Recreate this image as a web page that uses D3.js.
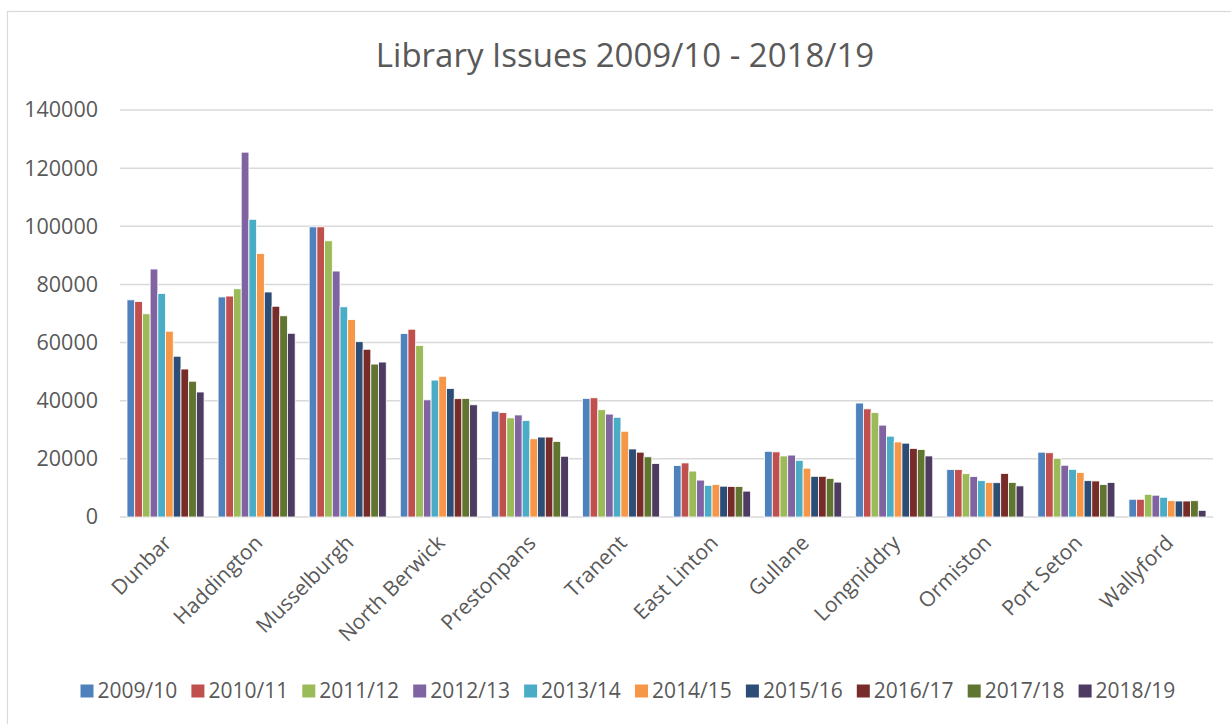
<!DOCTYPE html>
<html>
<head>
<meta charset="utf-8">
<script src="https://cdn.jsdelivr.net/npm/d3@7"></script>
<style>
  body { margin: 0; background: #fff; }
  text { font-family: "Open Sans", "Liberation Sans", sans-serif; fill: #595959; }
</style>
</head>
<body>
<div class="canvas"></div>
<script>
// libraries along the x axis
const libraries = ["Dunbar", "Haddington", "Musselburgh", "North Berwick", "Prestonpans", "Tranent",
  "East Linton", "Gullane", "Longniddry", "Ormiston", "Port Seton", "Wallyford"];

// one series per year
const years = ["2009/10", "2010/11", "2011/12", "2012/13", "2013/14", "2014/15", "2015/16", "2016/17", "2017/18", "2018/19"];

// issues per year, in library order
const y2009 = [74700, 75700, 99800, 63100, 36400, 40800, 17700, 22600, 39200, 16300, 22300, 6100];
const y2010 = [74100, 76000, 99800, 64600, 35900, 41000, 18600, 22400, 37200, 16300, 22100, 6100];
const y2011 = [69900, 78500, 95000, 59000, 34100, 36900, 15800, 21000, 35900, 14900, 20200, 7800];
const y2012 = [85300, 125500, 84600, 40300, 35100, 35400, 12700, 21300, 31600, 13900, 17800, 7500];
const y2013 = [76900, 102400, 72300, 47100, 33200, 34300, 10900, 19500, 27800, 12500, 16400, 6800];
const y2014 = [63900, 90600, 67900, 48400, 26900, 29500, 11200, 16800, 25800, 11900, 15300, 5600];
const y2015 = [55300, 77400, 60300, 44200, 27500, 23400, 10600, 14000, 25400, 11800, 12500, 5500];
const y2016 = [50900, 72500, 57700, 40700, 27500, 22300, 10500, 14000, 23600, 15000, 12400, 5500];
const y2017 = [46700, 69200, 52600, 40800, 26000, 20700, 10500, 13300, 23200, 11900, 11200, 5600];
const y2018 = [43000, 63200, 53300, 38600, 20900, 18400, 8900, 12000, 21000, 10700, 11900, 2300];
const seriesValues = [y2009, y2010, y2011, y2012, y2013, y2014, y2015, y2016, y2017, y2018];

const yTicks = [0, 20000, 40000, 60000, 80000, 100000, 120000, 140000];
const colours = ["#4F81BD", "#C0504D", "#9BBB59", "#8064A2", "#4BACC6", "#F79646", "#2C4D75", "#772C2A", "#5F7530", "#4D3B62"];

// dimensions
const w = 1231;
const h = 724;
const plot = { left: 120, right: 1213, top: 110, bottom: 517 };

const svg = d3.select(".canvas").append("svg").attr("width", w).attr("height", h);

// chart frame (only left/top visible in the crop)
svg.append("rect")
  .attr("x", 7.5).attr("y", 11.5)
  .attr("width", 1260).attr("height", 760)
  .attr("fill", "none")
  .attr("stroke", "#d9d9d9")
  .attr("stroke-width", 1.2);

// title
svg.append("text")
  .attr("x", 625)
  .attr("y", 67)
  .attr("text-anchor", "middle")
  .style("font-size", "33px")
  .text("Library Issues 2009/10 - 2018/19");

// scales
const x0 = d3.scaleBand().domain(libraries).range([plot.left, plot.right]).paddingInner(0.154).paddingOuter(0.077);
const x1 = d3.scaleBand().domain(years).range([0, x0.bandwidth()]);
const y = d3.scaleLinear().domain([0, 140000]).range([plot.bottom, plot.top]);

// gridlines
svg.append("g")
  .selectAll("line")
  .data(yTicks)
  .enter()
  .append("line")
  .attr("x1", plot.left)
  .attr("x2", plot.right)
  .attr("y1", (d) => y(d))
  .attr("y2", (d) => y(d))
  .attr("stroke", "#d9d9d9")
  .attr("stroke-width", 1.5);

// y axis labels
const yAxis = d3.axisLeft(y).tickValues(yTicks).tickSize(0).tickPadding(22).tickFormat(d3.format("d"));
svg.append("g")
  .attr("transform", `translate(${plot.left}, 0)`)
  .call(yAxis)
  .call((g) => g.select(".domain").remove())
  .selectAll("text")
  .style("font-size", "21.5px")
  .attr("fill", "#595959");

// bars, one group per library
const groups = svg.append("g")
  .selectAll("g")
  .data(libraries)
  .enter()
  .append("g")
  .attr("transform", (d) => `translate(${x0(d)}, 0)`);

groups.selectAll("rect")
  .data((d, i) => years.map((yr, j) => ({ year: yr, value: seriesValues[j][i], k: j })))
  .enter()
  .append("rect")
  .attr("x", (d) => x1(d.year))
  .attr("y", (d) => y(d.value))
  .attr("width", x1.bandwidth())
  .attr("height", (d) => plot.bottom - y(d.value))
  .attr("fill", (d) => colours[d.k])
  .attr("stroke", "#fff")
  .attr("stroke-width", 0.8);

// x axis labels, rotated
const xAxis = d3.axisBottom(x0).tickSize(0).tickPadding(0);
svg.append("g")
  .attr("transform", `translate(0, ${plot.bottom})`)
  .call(xAxis)
  .call((g) => g.select(".domain").remove())
  .selectAll("text")
  .style("font-size", "21px")
  .attr("fill", "#595959")
  .attr("text-anchor", "end")
  .attr("dy", "0.35em")
  .attr("transform", "translate(2, 22) rotate(-45)");

// legend
const legendStep = 110.9;
const legend = svg.append("g")
  .selectAll("g")
  .data(years)
  .enter()
  .append("g")
  .attr("transform", (d, i) => `translate(${80.5 + i * legendStep}, 691)`);

legend.append("rect")
  .attr("x", 0).attr("y", -6.5)
  .attr("width", 13).attr("height", 13)
  .attr("fill", (d, i) => colours[i]);

legend.append("text")
  .attr("x", 17)
  .attr("dy", "0.35em")
  .style("font-size", "21px")
  .text((d) => d);
</script>
</body>
</html>
